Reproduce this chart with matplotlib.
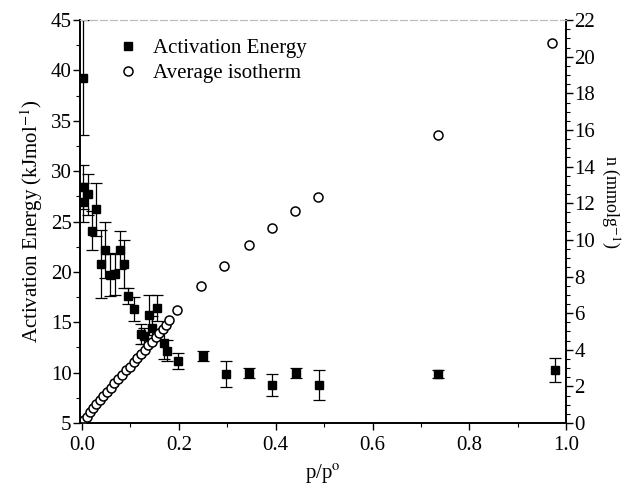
"""
Activation energy and average isotherm against relative pressure
"""

import matplotlib
matplotlib.use('Agg')
import matplotlib.pyplot as plt
from matplotlib.ticker import MultipleLocator

# Activation energy points (p/p0, kJ/mol, error)
p_ea = [0.003, 0.003, 0.012, 0.003, 0.029, 0.021, 0.048, 0.079, 0.039, 0.087,
        0.058, 0.068, 0.096, 0.108, 0.138, 0.155, 0.122, 0.128, 0.145, 0.169,
        0.175, 0.198, 0.250, 0.298, 0.345, 0.392, 0.442, 0.490, 0.736, 0.977]
ea = [39.3, 28.4, 27.7, 26.9, 26.2, 24.1, 22.2, 22.2, 20.8, 20.8,
      19.7, 19.8, 17.6, 16.3, 15.7, 16.4, 13.8, 13.6, 14.4, 12.9,
      12.2, 11.2, 11.7, 9.9, 10.0, 8.8, 10.0, 8.8, 9.9, 10.3]
ea_err = [5.7, 2.2, 2.0, 1.9, 2.6, 1.9, 2.8, 1.9, 3.4, 2.4,
          2.1, 2.1, 0.8, 1.2, 2.0, 1.3, 1.0, 0.8, 1.2, 1.5,
          1.0, 0.8, 0.5, 1.3, 0.5, 1.1, 0.5, 1.5, 0.4, 1.2]

# Average isotherm (p/p0, mmol/g)
p_iso = [0.000, 0.004, 0.010, 0.017, 0.023, 0.030, 0.037, 0.044, 0.052, 0.059,
         0.067, 0.075, 0.083, 0.091, 0.099, 0.107, 0.114, 0.122, 0.130, 0.137,
         0.144, 0.152, 0.159, 0.167, 0.174, 0.180, 0.196, 0.246, 0.293, 0.345,
         0.392, 0.440, 0.488, 0.735, 0.971]
n_iso = [0.0, 0.16, 0.35, 0.59, 0.80, 1.02, 1.26, 1.48, 1.72, 1.93,
         2.17, 2.39, 2.63, 2.87, 3.08, 3.32, 3.54, 3.78, 4.00, 4.24,
         4.45, 4.70, 4.91, 5.15, 5.37, 5.61, 6.17, 7.49, 8.60, 9.73,
         10.67, 11.58, 12.35, 15.74, 20.75]

plt.rcParams['font.family'] = ['Liberation Serif', 'DejaVu Serif']
plt.rcParams['mathtext.fontset'] = 'stix'
plt.rcParams['font.size'] = 15

fig = plt.figure(figsize=(6.25, 5.03), dpi=100)
ax = fig.add_axes([0.128, 0.159, 0.778, 0.801])
ax2 = ax.twinx()

# Activation energy with error bars
eb = ax.errorbar(p_ea, ea, yerr=ea_err, fmt='s', color='black', ms=5.5,
                 elinewidth=0.9, capsize=4.5, capthick=0.9,
                 label='Activation Energy')

# Isotherm as open circles
iso, = ax2.plot(p_iso, n_iso, 'o', mfc='white', mec='black', mew=1.1, ms=6.5,
                label='Average isotherm')

ax.set_xlim(-0.004, 1.0)
ax.set_ylim(5, 45)
ax2.set_ylim(0, 22)

ax.xaxis.set_major_locator(MultipleLocator(0.2))
ax.xaxis.set_minor_locator(MultipleLocator(0.1))
ax.yaxis.set_major_locator(MultipleLocator(5))
ax.yaxis.set_minor_locator(MultipleLocator(2.5))
ax2.yaxis.set_major_locator(MultipleLocator(2))
ax2.yaxis.set_minor_locator(MultipleLocator(0.5))
ax.xaxis.set_major_formatter(plt.FuncFormatter(lambda v, p: '%.1f' % v))

ax.tick_params(which='major', direction='out', length=5, width=1, pad=1)
ax.tick_params(which='minor', direction='out', length=3, width=0.8)
ax2.tick_params(which='major', direction='out', length=5, width=1, pad=1)
ax2.tick_params(which='minor', direction='out', length=3, width=0.8)
ax.tick_params(axis='x', pad=4)

# Scan-like faint top border
for a in (ax, ax2):
    a.spines['top'].set_color('#bbbbbb')
    a.spines['top'].set_linestyle((0, (6, 3)))
    a.spines['top'].set_linewidth(0.8)
    a.spines['left'].set_linewidth(1.2)
    a.spines['right'].set_linewidth(1.2)
    a.spines['bottom'].set_linewidth(1.2)

ax.set_xlabel(r'p/p$^{\mathrm{o}}$', labelpad=6)
ax.set_ylabel(r'Activation Energy (kJmol$^{-1}$)', labelpad=4)
ax2.set_ylabel(r'n (mmolg$^{-1}$)', rotation=270, fontsize=13)
ax2.yaxis.set_label_coords(1.114, 0.55)

ax2.legend([eb[0], iso], ['Activation Energy', 'Average isotherm'],
           loc='upper left', bbox_to_anchor=(0.035, 1.0), frameon=False,
           handletextpad=0.6, labelspacing=0.25, handlelength=1.2,
           fontsize=15)

fig.savefig('out.png', dpi=100)
